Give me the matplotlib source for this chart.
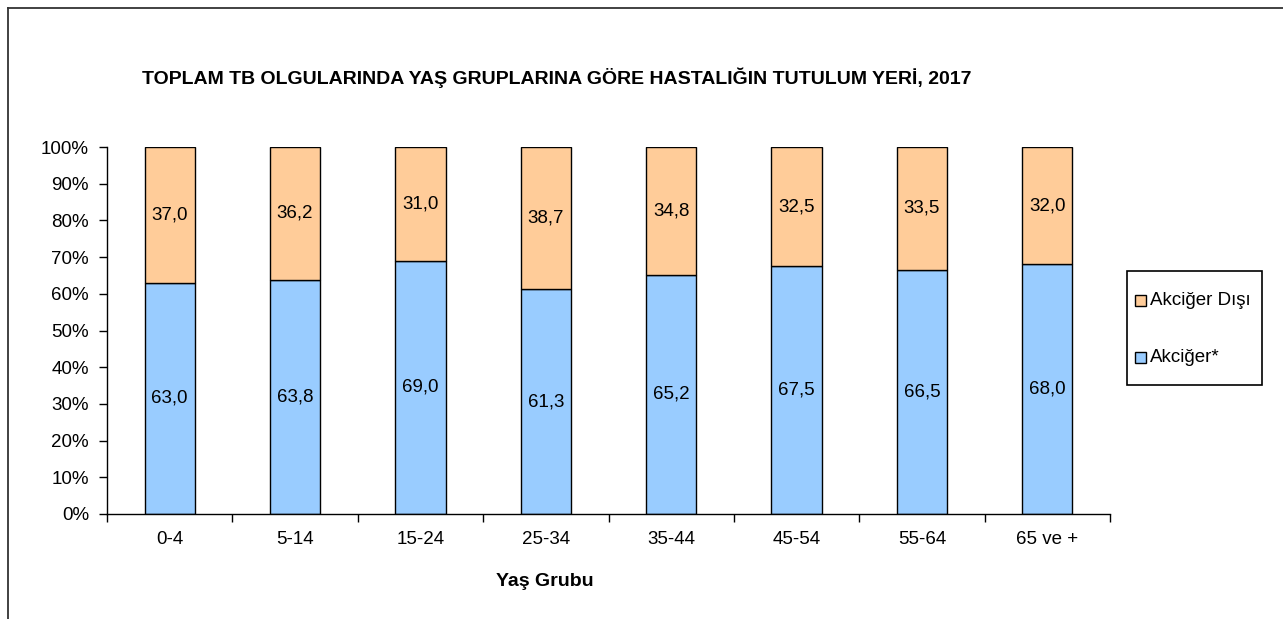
import matplotlib
matplotlib.use("Agg")
import matplotlib.pyplot as plt
from matplotlib.lines import Line2D
from matplotlib.patches import Rectangle
import numpy as np

plt.rcParams['font.family'] = ['Liberation Sans', 'DejaVu Sans']

categories = ['0-4', '5-14', '15-24', '25-34', '35-44', '45-54', '55-64', '65 ve +']
akciger = [63.0, 63.8, 69.0, 61.3, 65.2, 67.5, 66.5, 68.0]
akciger_disi = [37.0, 36.2, 31.0, 38.7, 34.8, 32.5, 33.5, 32.0]
yticks = [0, 10, 20, 30, 40, 50, 60, 70, 80, 90, 100]
legend_labels = ['Akciğer Dışı', 'Akciğer*']

blue = '#99CCFF'
orange = '#FFCC99'

W, H = 1283, 619
fig = plt.figure(figsize=(W/100, H/100), dpi=100)
ax = fig.add_axes([107/W, 1-514/H, (1110-107)/W, (514-147)/H])

x = np.arange(len(categories))
ax.bar(x, akciger, width=0.4, color=blue, edgecolor='black', linewidth=1)
ax.bar(x, akciger_disi, width=0.4, bottom=akciger, color=orange, edgecolor='black', linewidth=1)

fs = 13.5
for i in range(len(categories)):
    ax.text(x[i], akciger[i]/2, f"{akciger[i]:.1f}".replace('.', ','), ha='center', va='center', fontsize=fs)
    ax.text(x[i], akciger[i] + akciger_disi[i]/2, f"{akciger_disi[i]:.1f}".replace('.', ','), ha='center', va='center', fontsize=fs)

ax.set_xlim(-0.5, len(categories)-0.5)
ax.set_ylim(0, 100)
ax.set_yticks(yticks)
ax.set_yticklabels([f"{v}%" for v in yticks], fontsize=fs)
ax.set_xticks(np.arange(-0.5, len(categories)), minor=False)
ax.set_xticklabels([])
ax.set_xticks(x, minor=True)
ax.set_xticklabels(categories, minor=True, fontsize=fs)
ax.tick_params(axis='x', which='minor', length=0, pad=12)
ax.tick_params(axis='x', which='major', length=6, direction='out', width=1)
ax.tick_params(axis='y', length=6, direction='out', width=1, pad=7)
ax.spines['top'].set_visible(False)
ax.spines['right'].set_visible(False)
ax.spines['left'].set_linewidth(1)
ax.spines['bottom'].set_linewidth(1)

fig.text(557/W, 1-78/H, 'TOPLAM TB OLGULARINDA YAŞ GRUPLARINA GÖRE HASTALIĞIN TUTULUM YERİ, 2017',
         ha='center', va='center', fontsize=14, fontweight='bold')
fig.text(545/W, 1-582/H, 'Yaş Grubu', ha='center', va='center', fontsize=14, fontweight='bold')

# legend (manual)
fig.add_artist(Rectangle((1127/W, 1-385/H), (1262-1127)/W, (385-271)/H, transform=fig.transFigure,
                         facecolor='white', edgecolor='black', linewidth=1.2))
for lbl, col, yc in zip(legend_labels, [orange, blue], [300, 357]):
    fig.add_artist(Rectangle((1135/W, 1-(yc+5.5)/H), 11/W, 11/H, transform=fig.transFigure,
                             facecolor=col, edgecolor='black', linewidth=1))
    fig.text(1150/W, 1-yc/H, lbl, ha='left', va='center', fontsize=fs)

fig.add_artist(Line2D([8/W, 8/W], [0, 1-8/H], color='#333333', linewidth=1.3))
fig.add_artist(Line2D([8/W, 1], [1-8/H, 1-8/H], color='#333333', linewidth=1.3))

fig.savefig('out.png', dpi=100)
